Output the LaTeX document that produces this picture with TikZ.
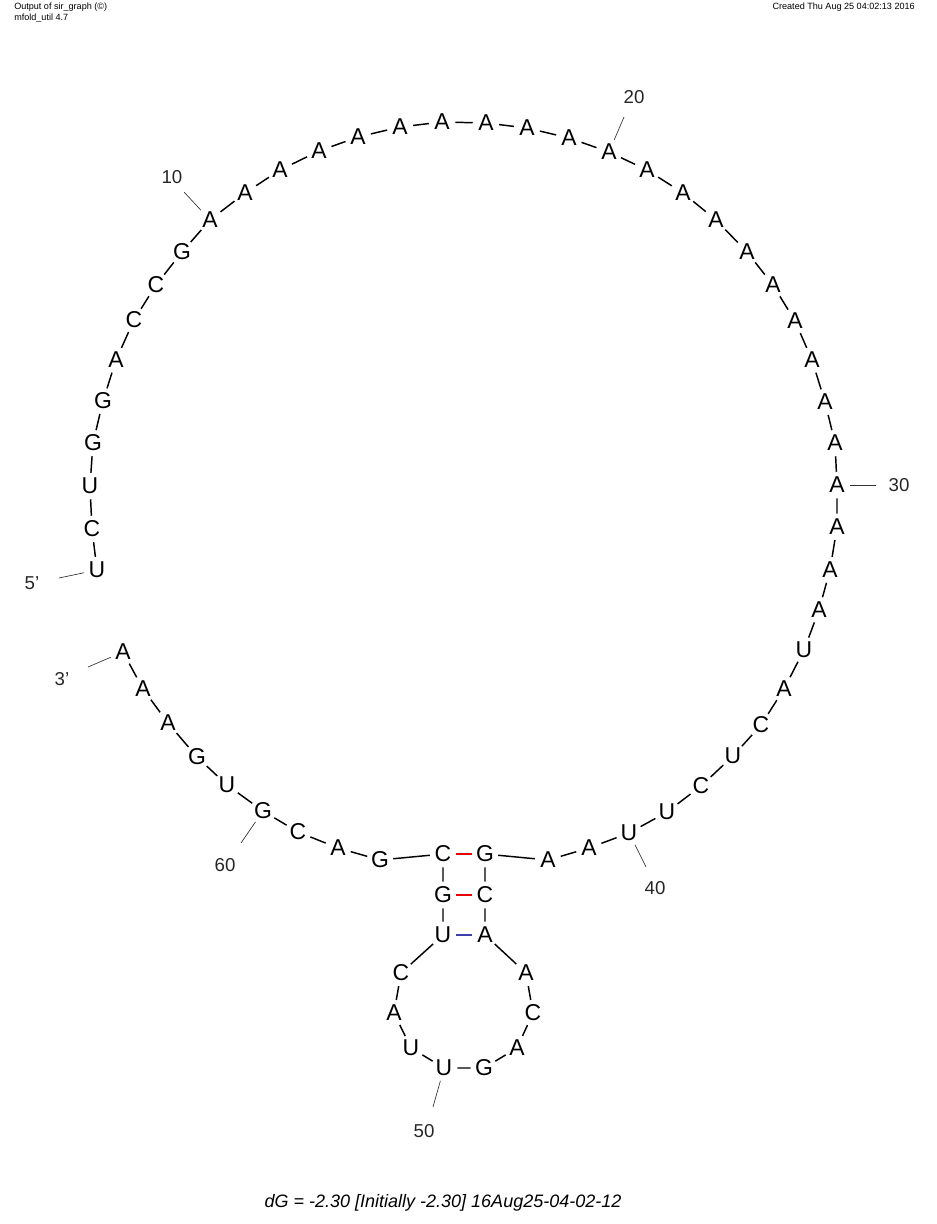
\documentclass[tikz,border=0pt]{standalone}
\usepackage{fontspec}
\setmainfont{Liberation Sans}
\definecolor{pairred}{RGB}{230,0,0}
\definecolor{pairblue}{RGB}{60,60,170}
\begin{document}
\begin{tikzpicture}[x=0.75pt,y=0.75pt,yscale=-1,xscale=1,
  base/.style={circle,inner sep=0pt,minimum size=19.5pt,font=\fontsize{17.2}{19}\selectfont},
  numlbl/.style={inner sep=0pt,text=black!85,font=\fontsize{14}{16}\selectfont},
  backbone/.style={line width=1.1pt},
  tick/.style={line width=0.5pt,black!80},
  gcpair/.style={line width=1.3pt,pairred},
  gupair/.style={line width=1.3pt,pairblue}]
\path[use as bounding box] (0,0) rectangle (936,1224);

% header
\node[anchor=west,inner sep=0pt,font=\fontsize{6.8}{8}\selectfont] (hdrA) at (14,7) {Output of sir\_graph (©)};
\node[anchor=west,inner sep=0pt,font=\fontsize{6.8}{8}\selectfont] (hdrB) at (14,18) {mfold\_util 4.7};
\node[anchor=east,inner sep=0pt,font=\fontsize{6.8}{8}\selectfont] (hdrC) at (915,7) {Created Thu Aug 25 04:02:13 2016};

% bases
\node[base] (n1) at (97,570) {U};
\node[base] (n2) at (92,529) {C};
\node[base] (n3) at (90,486) {U};
\node[base] (n4) at (93,443) {G};
\node[base] (n5) at (103,401) {G};
\node[base] (n6) at (116,360) {A};
\node[base] (n7) at (134,320) {C};
\node[base] (n8) at (156,285) {C};
\node[base] (n9) at (182,252) {G};
\node[base] (n10) at (210,220) {A};
\node[base] (n11) at (245,193) {A};
\node[base] (n12) at (280,170) {A};
\node[base] (n13) at (319,151) {A};
\node[base] (n14) at (358,137) {A};
\node[base] (n15) at (400,127) {A};
\node[base] (n16) at (442,122) {A};
\node[base] (n17) at (486,123) {A};
\node[base] (n18) at (527,128) {A};
\node[base] (n19) at (569,138) {A};
\node[base] (n20) at (609,152) {A};
\node[base] (n21) at (647,170) {A};
\node[base] (n22) at (683,193) {A};
\node[base] (n23) at (716,220) {A};
\node[base] (n24) at (747,252) {A};
\node[base] (n25) at (773,285) {A};
\node[base] (n26) at (795,321) {A};
\node[base] (n27) at (812,360) {A};
\node[base] (n28) at (825,402) {A};
\node[base] (n29) at (835,443) {A};
\node[base] (n30) at (837,485) {A};
\node[base] (n31) at (837,527) {A};
\node[base] (n32) at (830,570) {A};
\node[base] (n33) at (819,610) {A};
\node[base] (n34) at (804,650) {U};
\node[base] (n35) at (784,689) {A};
\node[base] (n36) at (761,725) {C};
\node[base] (n37) at (733,756) {U};
\node[base] (n38) at (701,786) {C};
\node[base] (n39) at (667,812) {U};
\node[base] (n40) at (629,833) {U};
\node[base] (n41) at (589,848) {A};
\node[base] (n42) at (548,860) {A};
\node[base] (n43) at (485,854) {G};
\node[base] (n44) at (485,895) {C};
\node[base] (n45) at (485,935) {A};
\node[base] (n46) at (526,973) {A};
\node[base] (n47) at (533,1013) {C};
\node[base] (n48) at (517,1048) {A};
\node[base] (n49) at (484,1068) {G};
\node[base] (n50) at (444,1068) {U};
\node[base] (n51) at (411,1048) {U};
\node[base] (n52) at (394,1013) {A};
\node[base] (n53) at (401,973) {C};
\node[base] (n54) at (443,935) {U};
\node[base] (n55) at (443,895) {G};
\node[base] (n56) at (443,854) {C};
\node[base] (n57) at (380,860) {G};
\node[base] (n58) at (338,848) {A};
\node[base] (n59) at (298,832) {C};
\node[base] (n60) at (263,811) {G};
\node[base] (n61) at (227,785) {U};
\node[base] (n62) at (197,757) {G};
\node[base] (n63) at (168,723) {A};
\node[base] (n64) at (143,689) {A};
\node[base] (n65) at (123,652) {A};

% backbone
\draw[backbone] (n1) -- (n2) -- (n3) -- (n4) -- (n5) -- (n6) -- (n7) -- (n8) -- (n9) -- (n10)
  -- (n11) -- (n12) -- (n13) -- (n14) -- (n15) -- (n16) -- (n17) -- (n18) -- (n19) -- (n20)
  -- (n21) -- (n22) -- (n23) -- (n24) -- (n25) -- (n26) -- (n27) -- (n28) -- (n29) -- (n30)
  -- (n31) -- (n32) -- (n33) -- (n34) -- (n35) -- (n36) -- (n37) -- (n38) -- (n39) -- (n40)
  -- (n41) -- (n42) -- (n43) -- (n44) -- (n45) -- (n46) -- (n47) -- (n48) -- (n49) -- (n50)
  -- (n51) -- (n52) -- (n53) -- (n54) -- (n55) -- (n56) -- (n57) -- (n58) -- (n59) -- (n60)
  -- (n61) -- (n62) -- (n63) -- (n64) -- (n65);

% pairs
\draw[gcpair] (n56) -- (n43);
\draw[gcpair] (n55) -- (n44);
\draw[gupair] (n54) -- (n45);

% numbering
\node[numlbl] (l5p) at (32,583) {5'};
\node[numlbl] (l3p) at (62,679) {3'};
\node[numlbl] (l10) at (172,177) {10};
\node[numlbl] (l20) at (634,97) {20};
\node[numlbl] (l30) at (899,485) {30};
\node[numlbl] (l40) at (655,888) {40};
\node[numlbl] (l50) at (424,1131) {50};
\node[numlbl] (l60) at (225,865) {60};
\coordinate (t5p) at (59,578);
\coordinate (t3p) at (88,667);
\coordinate (t10) at (184,192);
\coordinate (t20) at (624,117);
\coordinate (t30) at (876,485);
\coordinate (t40) at (646,867);
\coordinate (t50) at (433,1107);
\coordinate (t60) at (241,843);
\draw[tick] (n1) -- (t5p);
\draw[tick] (n65) -- (t3p);
\draw[tick] (n10) -- (t10);
\draw[tick] (n20) -- (t20);
\draw[tick] (n30) -- (t30);
\draw[tick] (n40) -- (t40);
\draw[tick] (n50) -- (t50);
\draw[tick] (n60) -- (t60);

% energy
\node[inner sep=0pt,font=\itshape\fontsize{13.5}{16}\selectfont] (dG) at (443,1203) {dG = -2.30 [Initially -2.30] 16Aug25-04-02-12};

\end{tikzpicture}
\end{document}
